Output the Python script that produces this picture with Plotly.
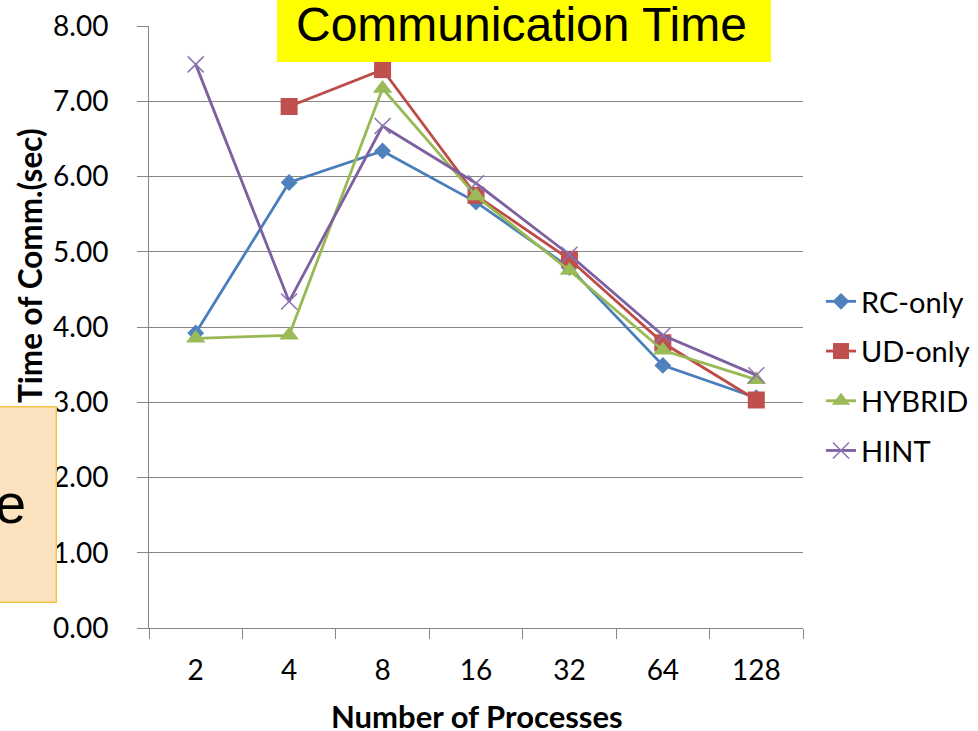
import plotly.graph_objects as go

# Communication time (sec) per number of processes, one list per transport mode
processes = ["2", "4", "8", "16", "32", "64", "128"]
rc_only = [3.92, 5.92, 6.34, 5.66, 4.79, 3.49, 3.06]
ud_only = [None, 6.93, 7.42, 5.75, 4.90, 3.79, 3.03]
hybrid = [3.85, 3.89, 7.17, 5.74, 4.75, 3.69, 3.30]
hint = [7.49, 4.34, 6.67, 5.91, 4.96, 3.89, 3.36]
y_ticks = [0, 1, 2, 3, 4, 5, 6, 7, 8]

W, H = 978, 731
L, R, T, B = 149, 175, 26, 103
PW, PH = W - L - R, H - T - B


def px_x(p):
    return (p - L) / PW


def px_y(p):
    return (H - B - p) / PH


GRID = "#868686"
FONT = "Lato, Carlito, sans-serif"

fig = go.Figure()

series = [
    ("RC-only", rc_only, "#4A7EBB", "#4F81BD", "diamond", 13),
    ("UD-only", ud_only, "#BE4B48", "#C0504D", "square", 17),
    ("HYBRID", hybrid, "#98B954", "#9BBB59", "triangle-up", 17),
]
for name, vals, lc, mc, sym, size in series:
    fig.add_trace(go.Scatter(
        x=processes, y=vals, name=name, mode="lines+markers",
        legendgroup=name,
        line=dict(color=lc, width=2.8),
        marker=dict(symbol=sym, size=size, color=mc, line=dict(width=0)),
    ))

fig.add_trace(go.Scatter(
    x=processes, y=hint, name="HINT", mode="lines+markers",
    legendgroup="HINT",
    line=dict(color="#7D60A0", width=2.8),
    marker=dict(symbol="x-thin", size=16, color="#8064A2",
                line=dict(color="#8C72B0", width=1.5)),
))

fig.update_layout(
    width=W, height=H,
    margin=dict(l=L, r=R, t=T, b=B, pad=0, autoexpand=False),
    paper_bgcolor="white", plot_bgcolor="white",
    font=dict(family=FONT, color="black"),
    showlegend=True,
    legend=dict(
        x=px_x(821), xanchor="left", y=px_y(276), yanchor="top",
        font=dict(family=FONT, size=29, color="black"),
        tracegroupgap=9, bgcolor="rgba(0,0,0,0)",
    ),
    xaxis=dict(
        type="category", range=[-0.5, 6.5], tickson="boundaries",
        ticks="outside", ticklen=10, tickcolor=GRID, tickwidth=1,
        showline=True, linecolor=GRID, linewidth=1, showgrid=False,
        ticklabelstandoff=17,
        tickfont=dict(family=FONT, size=28, color="black"),
    ),
    yaxis=dict(
        range=[0, 8], tickvals=y_ticks, tickformat=".2f",
        showgrid=True, gridcolor=GRID, gridwidth=1, zeroline=False,
        ticks="outside", ticklen=11, tickcolor=GRID, tickwidth=1,
        showline=True, linecolor=GRID, linewidth=1,
        ticklabelstandoff=23,
        tickfont=dict(family=FONT, size=28, color="black"),
    ),
)

# Yellow title banner
fig.add_shape(
    type="rect", xref="paper", yref="paper", layer="above",
    x0=px_x(277), x1=px_x(771), y0=px_y(62), y1=px_y(-10),
    fillcolor="#FFFF00", line=dict(width=0),
)

annotations = [
    # y-axis title
    dict(text="<b>Time of Comm.(sec)</b>", x=px_x(30), y=px_y(266),
         xanchor="center", yanchor="middle", textangle=-90,
         font=dict(family=FONT, size=31.5, color="black")),
    # side note box
    dict(text=" ", x=px_x(-2), y=px_y(405.5), xanchor="left", yanchor="top",
         width=56, height=194, bgcolor="#FBE3BF", bordercolor="#F5C244",
         borderwidth=1.5, borderpad=0),
    dict(text="e", x=px_x(28), y=px_y(503), xanchor="right", yanchor="middle",
         font=dict(family="Liberation Sans, Arial", size=56, color="black")),
    # x-axis title
    dict(text="<b>Number of Processes</b>", x=px_x(477), y=px_y(716),
         xanchor="center", yanchor="middle",
         font=dict(family=FONT, size=31, color="black")),
    # banner text
    dict(text="Communication Time", x=px_x(521), y=px_y(24),
         xanchor="center", yanchor="middle",
         font=dict(family="Liberation Sans, Arial", size=48, color="black")),
]
for a in annotations:
    a.update(xref="paper", yref="paper", showarrow=False)
    fig.add_annotation(**a)

fig.write_html("out.html")
